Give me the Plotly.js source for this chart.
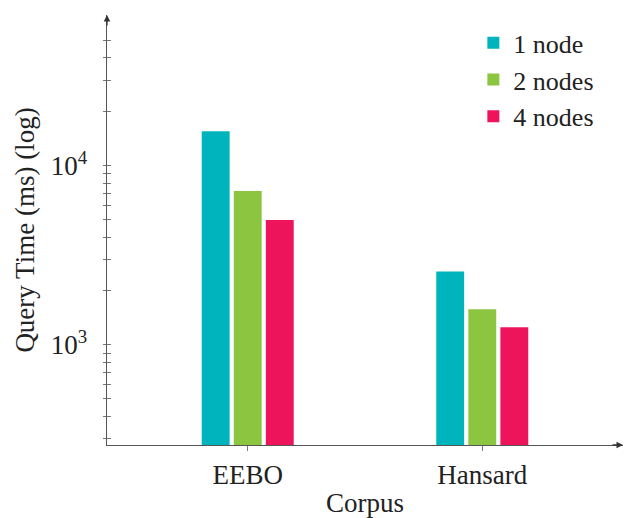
<!DOCTYPE html>
<html>
<head>
<meta charset="utf-8">
<script src="https://cdn.plot.ly/plotly-3.0.1.min.js"></script>
<style>html,body{margin:0;padding:0;background:#fff}#chart{width:626px;height:518px}</style>
</head>
<body>
<div id="chart"></div>
<script>
// ---- data ----
const corpora = ["EEBO", "Hansard"];
const seriesNames = ["1 node", "2 nodes", "4 nodes"];
const oneNode = [15600, 2570];
const twoNodes = [7220, 1580];
const fourNodes = [4980, 1255];
const majorTickVals = [1000, 10000];
const majorTickText = ["10<sup>3</sup>", "10<sup>4</sup>"];
const minorTickVals = [300, 400, 500, 600, 700, 800, 900, 2000, 3000, 4000, 5000, 6000, 7000, 8000, 9000, 20000, 30000, 40000, 50000];

const colors = ["#00B4BE", "#8CC53F", "#EE145B"];
const values = [oneNode, twoNodes, fourNodes];
const FONT = "Liberation Serif, Times New Roman, serif";
const FS = 27;

const traces = values.map((v, i) => ({
  type: "bar",
  name: seriesNames[i],
  x: corpora,
  y: v,
  marker: {color: colors[i], line: {width: 0}},
  hoverinfo: "x+y+name"
}));

// overlay traces for extra tick axes (invisible)
traces.push({type: "scatter", x: corpora, y: oneNode, yaxis: "y2", mode: "none", showlegend: false, hoverinfo: "skip"});
traces.push({type: "scatter", x: corpora, y: oneNode, yaxis: "y3", mode: "none", showlegend: false, hoverinfo: "skip"});

const yRange = [Math.log10(276), Math.log10(69500)];

const layout = {
  width: 626, height: 518,
  margin: {l: 107, r: 3, t: 15, b: 73},
  paper_bgcolor: "#fff", plot_bgcolor: "#fff",
  font: {family: FONT, size: FS, color: "#222"},
  barmode: "group",
  bargap: 0.59,
  bargroupgap: 0.13,
  showlegend: true,
  legend: {
    x: 0.71, y: 0.99, xanchor: "left", yanchor: "top",
    font: {family: FONT, size: 26, color: "#222"},
    bgcolor: "rgba(0,0,0,0)", tracegroupgap: 0, itemwidth: 30
  },
  xaxis: {
    type: "category",
    range: [-0.6, 1.6],
    showline: true, linecolor: "#555", linewidth: 1.3,
    ticks: "outside", ticklen: 5, tickcolor: "#777", tickwidth: 1,
    showgrid: false, zeroline: false,
    tickfont: {family: FONT, size: FS, color: "#222"},
    ticklabelstandoff: 0,
    title: {text: "Corpus", font: {family: FONT, size: FS, color: "#222"}, standoff: 16}
  },
  yaxis: {
    type: "log",
    range: yRange,
    showline: true, linecolor: "#555", linewidth: 1.3,
    ticks: "outside", ticklen: 3, tickcolor: "#777", tickwidth: 1,
    tickvals: majorTickVals, ticktext: majorTickText,
    showgrid: false, zeroline: false,
    ticklabelstandoff: 10,
    tickfont: {family: FONT, size: FS, color: "#222"},
    title: {text: "Query Time (ms) (log)", font: {family: FONT, size: FS, color: "#222"}, standoff: 8}
  },
  yaxis2: {
    type: "log", overlaying: "y", range: yRange, side: "left",
    showline: false, showgrid: false, zeroline: false,
    ticks: "inside", ticklen: 4, tickcolor: "#777", tickwidth: 1,
    tickvals: majorTickVals.concat(minorTickVals), showticklabels: false
  },
  yaxis3: {
    type: "log", overlaying: "y", range: yRange, side: "left",
    showline: false, showgrid: false, zeroline: false,
    ticks: "outside", ticklen: 3, tickcolor: "#777", tickwidth: 1,
    tickvals: minorTickVals, showticklabels: false
  },
  annotations: [
    {xref: "paper", yref: "paper", x: 0, y: 1, ax: 0, ay: 12, axref: "pixel", ayref: "pixel",
     showarrow: true, arrowhead: 2, arrowsize: 1, arrowwidth: 1.3, arrowcolor: "#333", text: ""},
    {xref: "paper", yref: "paper", x: 1, y: 0, ax: -12, ay: 0,
     showarrow: true, arrowhead: 2, arrowsize: 1, arrowwidth: 1.3, arrowcolor: "#333", text: ""}
  ]
};

Plotly.newPlot("chart", traces, layout, {displayModeBar: false, staticPlot: true});
</script>
</body>
</html>
